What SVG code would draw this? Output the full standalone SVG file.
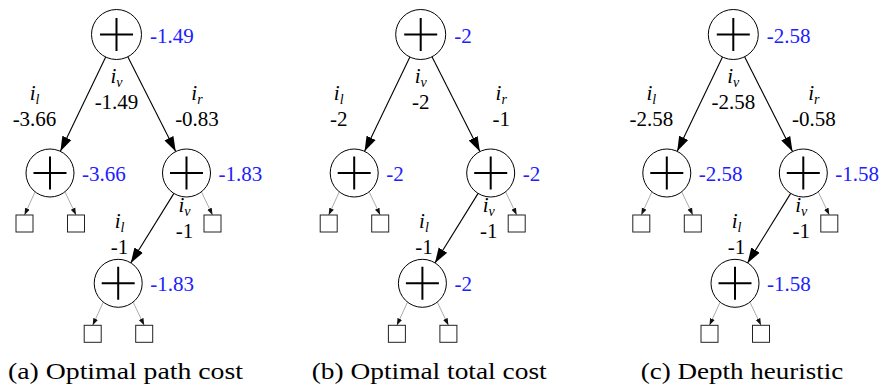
<svg xmlns="http://www.w3.org/2000/svg" width="881" height="385" viewBox="0 0 881 385">
<defs>
<marker id="ah" markerUnits="userSpaceOnUse" markerWidth="16" markerHeight="12" refX="15" refY="6" orient="auto"><path d="M0,1 L15,6 L0,11 z" fill="#000"/></marker>
<marker id="sh" markerUnits="userSpaceOnUse" markerWidth="8" markerHeight="6" refX="7" refY="3" orient="auto"><path d="M0,0.5 L7,3 L0,5.5 z" fill="#111"/></marker>
<style>
.op circle{fill:#fff;stroke:#000;stroke-width:1}
.op path{stroke:#000;stroke-width:2;fill:none}
.leaf rect{fill:#fff;stroke:#222;stroke-width:1}
.cost{font-family:'Liberation Serif',serif;font-size:21px;fill:#2020ff}
.lab{font-family:'Liberation Serif',serif;font-size:21px;fill:#000;text-anchor:middle}
.m{font-style:italic}
.s{font-style:italic;font-size:14px}
.cap{font-family:'Liberation Serif',serif;font-size:24px;fill:#000}
.e{stroke:#000;stroke-width:1.1;fill:none;marker-end:url(#ah)}
.g{stroke:#a0a0a0;stroke-width:0.9;fill:none;marker-end:url(#sh)}
</style>
</defs>
<rect width="881" height="385" fill="#fff"/>

<!-- connectors -->
<g id="connectors">
<!-- panel a -->
<line class="e" x1="105.7" y1="57.05" x2="60.4" y2="151.35"/>
<line class="e" x1="127.8" y1="56.8" x2="175.7" y2="151.6"/>
<line class="e" x1="173.9" y1="193.4" x2="130.8" y2="262.9"/>
<line class="g" x1="35" y1="192" x2="24.5" y2="215"/>
<line class="g" x1="65" y1="192" x2="76" y2="215"/>
<line class="g" x1="201.5" y1="192" x2="212.5" y2="215"/>
<line class="g" x1="103.2" y1="302.3" x2="92.7" y2="325.3"/>
<line class="g" x1="133.2" y1="302.3" x2="144.2" y2="325.3"/>
<text class="lab"><tspan x="116.5" y="83" class="m">i</tspan><tspan class="s" dy="4">v</tspan><tspan x="116.5" y="109">-1.49</tspan></text>
<text class="lab"><tspan x="34.5" y="100" class="m">i</tspan><tspan class="s" dy="4">l</tspan><tspan x="34.5" y="126">-3.66</tspan></text>
<text class="lab"><tspan x="197" y="100" class="m">i</tspan><tspan class="s" dy="4">r</tspan><tspan x="197" y="126">-0.83</tspan></text>
<text class="lab"><tspan x="119.5" y="228" class="m">i</tspan><tspan class="s" dy="4">l</tspan><tspan x="119.5" y="254">-1</tspan></text>
<text class="lab"><tspan x="184.5" y="211.5" class="m">i</tspan><tspan class="s" dy="4">v</tspan><tspan x="184.5" y="237.5">-1</tspan></text>
<!-- panel b -->
<line class="e" x1="409.9" y1="57.05" x2="364.6" y2="151.35"/>
<line class="e" x1="432" y1="56.8" x2="479.9" y2="151.6"/>
<line class="e" x1="478.1" y1="193.4" x2="435" y2="262.9"/>
<line class="g" x1="339.2" y1="192" x2="328.7" y2="215"/>
<line class="g" x1="369.2" y1="192" x2="380.2" y2="215"/>
<line class="g" x1="505.7" y1="192" x2="516.7" y2="215"/>
<line class="g" x1="407.4" y1="302.3" x2="396.9" y2="325.3"/>
<line class="g" x1="437.4" y1="302.3" x2="448.4" y2="325.3"/>
<text class="lab"><tspan x="420.7" y="83" class="m">i</tspan><tspan class="s" dy="4">v</tspan><tspan x="420.7" y="109">-2</tspan></text>
<text class="lab"><tspan x="338.7" y="100" class="m">i</tspan><tspan class="s" dy="4">l</tspan><tspan x="338.7" y="126">-2</tspan></text>
<text class="lab"><tspan x="501.2" y="100" class="m">i</tspan><tspan class="s" dy="4">r</tspan><tspan x="501.2" y="126">-1</tspan></text>
<text class="lab"><tspan x="423.9" y="228" class="m">i</tspan><tspan class="s" dy="4">l</tspan><tspan x="423.9" y="254">-1</tspan></text>
<text class="lab"><tspan x="488.7" y="211.5" class="m">i</tspan><tspan class="s" dy="4">v</tspan><tspan x="488.7" y="237.5">-1</tspan></text>
<!-- panel c -->
<line class="e" x1="722.5" y1="57.05" x2="677.2" y2="151.35"/>
<line class="e" x1="744.6" y1="56.8" x2="792.5" y2="151.6"/>
<line class="e" x1="790.7" y1="193.4" x2="747.6" y2="262.9"/>
<line class="g" x1="651.8" y1="192" x2="641.3" y2="215"/>
<line class="g" x1="681.8" y1="192" x2="692.8" y2="215"/>
<line class="g" x1="818.3" y1="192" x2="829.3" y2="215"/>
<line class="g" x1="720" y1="302.3" x2="709.5" y2="325.3"/>
<line class="g" x1="750" y1="302.3" x2="761" y2="325.3"/>
<text class="lab"><tspan x="733.3" y="83" class="m">i</tspan><tspan class="s" dy="4">v</tspan><tspan x="733.3" y="109">-2.58</tspan></text>
<text class="lab"><tspan x="651.3" y="100" class="m">i</tspan><tspan class="s" dy="4">l</tspan><tspan x="651.3" y="126">-2.58</tspan></text>
<text class="lab"><tspan x="813.8" y="100" class="m">i</tspan><tspan class="s" dy="4">r</tspan><tspan x="813.8" y="126">-0.58</tspan></text>
<text class="lab"><tspan x="736.5" y="228" class="m">i</tspan><tspan class="s" dy="4">l</tspan><tspan x="736.5" y="254">-1</tspan></text>
<text class="lab"><tspan x="801.3" y="211.5" class="m">i</tspan><tspan class="s" dy="4">v</tspan><tspan x="801.3" y="237.5">-1</tspan></text>
</g>

<!-- panel a nodes -->
<g id="a-root" class="op"><circle cx="116.5" cy="34.5" r="25"/><path d="M100 34.5h33M116.5 18v33"/><text class="cost" x="150" y="42.5">-1.49</text></g>
<g id="a-left" class="op"><circle cx="50" cy="173" r="24"/><path d="M33.5 173h33M50 156.5v33"/><text class="cost" x="82" y="180.5">-3.66</text></g>
<g id="a-right" class="op"><circle cx="186.5" cy="173" r="24"/><path d="M170 173h33M186.5 156.5v33"/><text class="cost" x="218.5" y="180.5">-1.83</text></g>
<g id="a-bottom" class="op"><circle cx="118.2" cy="283.3" r="24"/><path d="M101.7 283.3h33M118.2 266.8v33"/><text class="cost" x="150.2" y="290.8">-1.83</text></g>
<g id="a-leaf1" class="leaf"><rect x="16" y="215" width="17" height="17"/></g>
<g id="a-leaf2" class="leaf"><rect x="67.5" y="215" width="17" height="17"/></g>
<g id="a-leaf3" class="leaf"><rect x="204" y="215" width="17" height="17"/></g>
<g id="a-leaf4" class="leaf"><rect x="84.2" y="325.3" width="17" height="17"/></g>
<g id="a-leaf5" class="leaf"><rect x="135.7" y="325.3" width="17" height="17"/></g>

<!-- panel b nodes -->
<g id="b-root" class="op"><circle cx="420.7" cy="34.5" r="25"/><path d="M404.2 34.5h33M420.7 18v33"/><text class="cost" x="454.2" y="42.5">-2</text></g>
<g id="b-left" class="op"><circle cx="354.2" cy="173" r="24"/><path d="M337.7 173h33M354.2 156.5v33"/><text class="cost" x="386.2" y="180.5">-2</text></g>
<g id="b-right" class="op"><circle cx="490.7" cy="173" r="24"/><path d="M474.2 173h33M490.7 156.5v33"/><text class="cost" x="522.7" y="180.5">-2</text></g>
<g id="b-bottom" class="op"><circle cx="422.4" cy="283.3" r="24"/><path d="M405.9 283.3h33M422.4 266.8v33"/><text class="cost" x="454.4" y="290.8">-2</text></g>
<g id="b-leaf1" class="leaf"><rect x="320.2" y="215" width="17" height="17"/></g>
<g id="b-leaf2" class="leaf"><rect x="371.7" y="215" width="17" height="17"/></g>
<g id="b-leaf3" class="leaf"><rect x="508.2" y="215" width="17" height="17"/></g>
<g id="b-leaf4" class="leaf"><rect x="388.4" y="325.3" width="17" height="17"/></g>
<g id="b-leaf5" class="leaf"><rect x="439.9" y="325.3" width="17" height="17"/></g>

<!-- panel c nodes -->
<g id="c-root" class="op"><circle cx="733.3" cy="34.5" r="25"/><path d="M716.8 34.5h33M733.3 18v33"/><text class="cost" x="766.8" y="42.5">-2.58</text></g>
<g id="c-left" class="op"><circle cx="666.8" cy="173" r="24"/><path d="M650.3 173h33M666.8 156.5v33"/><text class="cost" x="698.8" y="180.5">-2.58</text></g>
<g id="c-right" class="op"><circle cx="803.3" cy="173" r="24"/><path d="M786.8 173h33M803.3 156.5v33"/><text class="cost" x="835.3" y="180.5">-1.58</text></g>
<g id="c-bottom" class="op"><circle cx="735" cy="283.3" r="24"/><path d="M718.5 283.3h33M735 266.8v33"/><text class="cost" x="767" y="290.8">-1.58</text></g>
<g id="c-leaf1" class="leaf"><rect x="632.8" y="215" width="17" height="17"/></g>
<g id="c-leaf2" class="leaf"><rect x="684.3" y="215" width="17" height="17"/></g>
<g id="c-leaf3" class="leaf"><rect x="820.8" y="215" width="17" height="17"/></g>
<g id="c-leaf4" class="leaf"><rect x="701" y="325.3" width="17" height="17"/></g>
<g id="c-leaf5" class="leaf"><rect x="752.5" y="325.3" width="17" height="17"/></g>

<!-- captions -->
<text class="cap" x="8" y="378.5" textLength="235" lengthAdjust="spacingAndGlyphs">(a) Optimal path cost</text>
<text class="cap" x="311.7" y="378.5" textLength="235" lengthAdjust="spacingAndGlyphs">(b) Optimal total cost</text>
<text class="cap" x="640.7" y="378.5" textLength="202.6" lengthAdjust="spacingAndGlyphs">(c) Depth heuristic</text>
</svg>
